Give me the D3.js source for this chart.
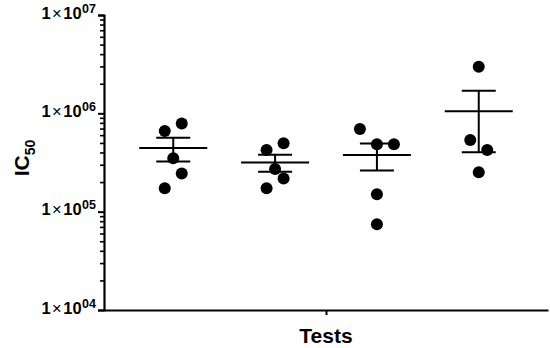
<!DOCTYPE html>
<html>
<head>
<meta charset="utf-8">
<script src="https://cdnjs.cloudflare.com/ajax/libs/d3/7.8.5/d3.min.js"></script>
<style>
  body { margin: 0; background: #fff; }
  svg text { font-family: "Liberation Sans", Arial, sans-serif; font-weight: bold; fill: #000; }
</style>
</head>
<body>
<div id="chart"></div>
<script>
// four test groups, IC50 values per group
var groups = ["Test 1", "Test 2", "Test 3", "Test 4"];
var test1 = [790000, 660000, 350000, 245000, 173000];
var test2 = [496000, 424000, 272000, 218000, 173000];
var test3 = [693000, 484000, 484000, 150000, 74400];
var test4 = [2980000, 536000, 424000, 251000];
var series = [test1, test2, test3, test4];

// column slot of each dot inside its group (scatter spread)
var spread = [[1, -1, 0, 1, -1], [1, -1, 0, 1, -1], [-2, 0, 2, 0, 0], [0, -1, 1, 0]];

var decades = [1e4, 1e5, 1e6, 1e7];
var decadeLabels = ["04", "05", "06", "07"];

var width = 550, height = 348;
var margin = { top: 15, right: 2, bottom: 38, left: 104 };

var svg = d3.select("#chart").append("svg")
    .attr("width", width)
    .attr("height", height);

var x = d3.scalePoint()
    .domain(groups)
    .range([margin.left, width - margin.right])
    .padding(0.68);

var y = d3.scaleLog()
    .domain([1e4, 1e7])
    .range([height - margin.bottom, margin.top]);

var dotStep = 8.5;

// minor ticks
var minor = [];
decades.slice(0, 3).forEach(function(d) {
  for (var k = 2; k <= 9; k++) minor.push(d * k);
});

svg.append("g")
    .attr("transform", "translate(" + margin.left + ",0)")
    .call(d3.axisLeft(y).tickValues(minor).tickSize(4).tickFormat(""))
    .call(function(g) { g.select(".domain").remove(); })
    .selectAll("line").attr("stroke-width", 1.6);

var yAxis = svg.append("g")
    .attr("transform", "translate(" + margin.left + ",0)")
    .call(d3.axisLeft(y).tickValues(decades).tickSize(6).tickFormat(""));
yAxis.select(".domain").attr("stroke-width", 2.2);
yAxis.selectAll("line").attr("stroke-width", 2);

// y tick labels: 1×10^xx
decades.forEach(function(d, i) {
  var t = svg.append("text")
      .attr("x", 96)
      .attr("y", y(d) + 3.5)
      .attr("text-anchor", "end")
      .style("font-size", "16.5px");
  t.append("tspan").text("1");
  t.append("tspan").attr("dx", 1.5).style("font-weight", "normal").text("\u00d7");
  t.append("tspan").attr("dx", 1.5).text("10");
  t.append("tspan").attr("dy", -6).attr("dx", 0.5).style("font-size", "12.5px").text(decadeLabels[i]);
});

// x axis with a single centre tick
var xAxis = svg.append("g")
    .attr("transform", "translate(0," + y(1e4) + ")")
    .call(d3.axisBottom(d3.scaleLinear().range([margin.left, width - margin.right]))
      .tickValues([0.5]).tickSize(5).tickFormat("").tickSizeOuter(0));
xAxis.select(".domain").attr("stroke-width", 2.2);
xAxis.selectAll("line").attr("stroke-width", 2);

// dots
series.forEach(function(vals, gi) {
  svg.append("g").selectAll("circle")
      .data(vals)
      .enter().append("circle")
      .attr("cx", function(d, i) { return x(groups[gi]) + spread[gi][i] * dotStep; })
      .attr("cy", function(d) { return y(d); })
      .attr("r", 6)
      .attr("fill", "#000");
});

// mean and SEM
series.forEach(function(vals, gi) {
  var m = d3.mean(vals);
  var sem = d3.deviation(vals) / Math.sqrt(vals.length);
  var cx = x(groups[gi]);
  var g = svg.append("g").attr("stroke", "#000").attr("stroke-width", 2);
  g.append("line").attr("x1", cx - 34).attr("x2", cx + 34).attr("y1", y(m)).attr("y2", y(m));
  g.append("line").attr("x1", cx).attr("x2", cx).attr("y1", y(m + sem)).attr("y2", y(m - sem));
  g.append("line").attr("x1", cx - 17).attr("x2", cx + 17).attr("y1", y(m + sem)).attr("y2", y(m + sem));
  g.append("line").attr("x1", cx - 17).attr("x2", cx + 17).attr("y1", y(m - sem)).attr("y2", y(m - sem));
});

// axis titles
var yt = svg.append("text")
    .attr("transform", "translate(29,158) rotate(-90)")
    .attr("text-anchor", "middle")
    .style("font-size", "21px");
yt.append("tspan").text("IC");
yt.append("tspan").attr("dy", 6).style("font-size", "14px").text("50");

svg.append("text")
    .attr("x", (margin.left + width - margin.right) / 2)
    .attr("y", 343)
    .attr("text-anchor", "middle")
    .style("font-size", "21px")
    .text("Tests");
</script>
</body>
</html>
